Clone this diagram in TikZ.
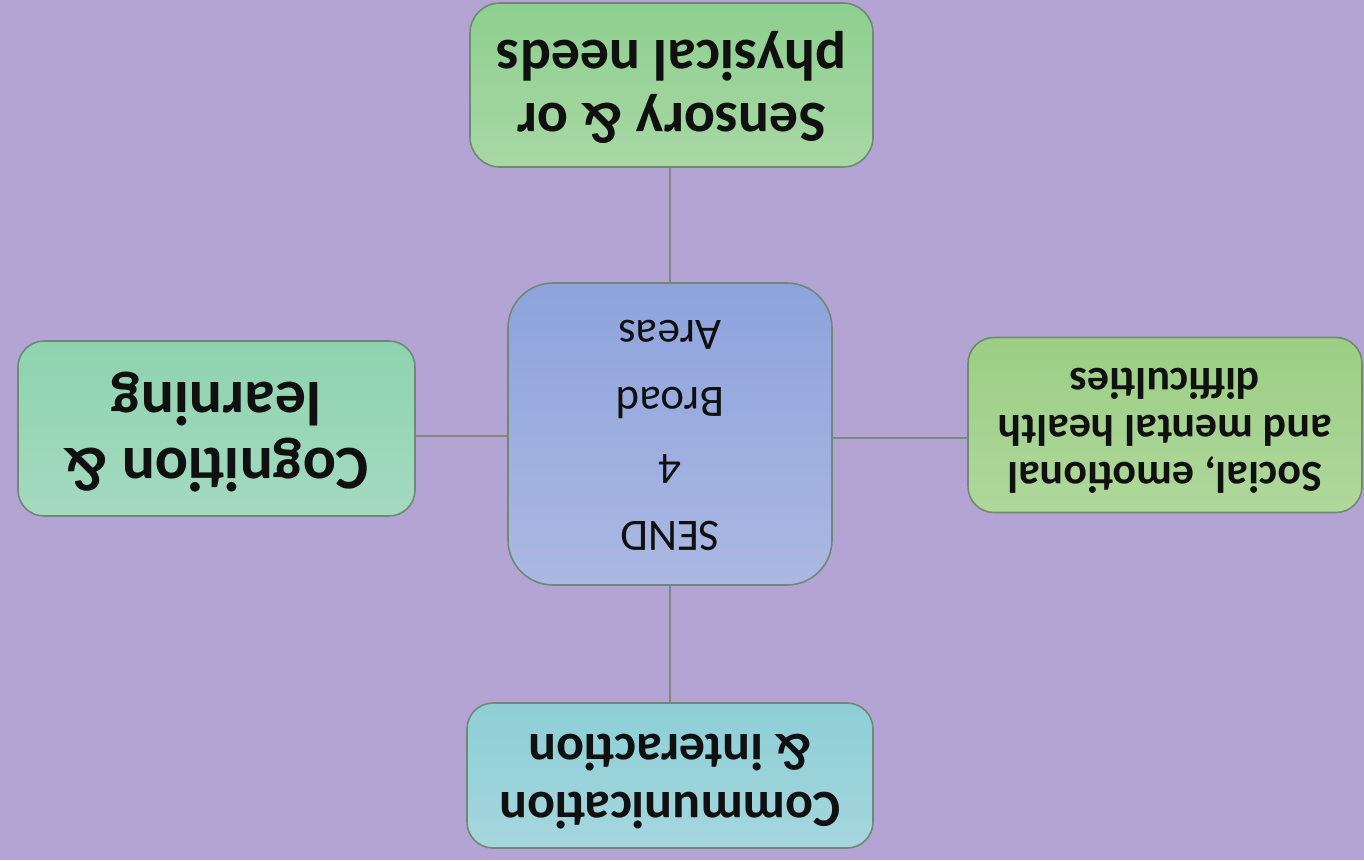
\documentclass[tikz,border=0pt]{standalone}
\usepackage{fontspec}
\setmainfont{Carlito}
\usepackage{graphicx}
\definecolor{bg}{HTML}{B3A4D4}
\definecolor{edgec}{HTML}{6F8A72}
\definecolor{linec}{HTML}{7C8A7E}
\definecolor{txt}{HTML}{101010}
\definecolor{sensT}{HTML}{8ECF8F}\definecolor{sensB}{HTML}{A8D8A4}
\definecolor{sendT}{HTML}{8EA3DD}\definecolor{sendB}{HTML}{ABB8E2}
\definecolor{socT}{HTML}{9BCF84}\definecolor{socB}{HTML}{B0D79C}
\definecolor{cogT}{HTML}{8ED3AF}\definecolor{cogB}{HTML}{A4DAC0}
\definecolor{comT}{HTML}{8DCFD6}\definecolor{comB}{HTML}{A6D6DE}
\tikzset{
  box/.style={draw=edgec, line width=1.6pt, inner sep=0pt, text=txt},
  conn/.style={draw=linec, line width=2pt},
}
\newcommand{\upside}[1]{\rotatebox{180}{\begin{tabular}{@{}c@{}}#1\end{tabular}}}
\begin{document}
\begin{tikzpicture}[x=1pt,y=-1pt]
\fill[bg] (0,0) rectangle (1364,860);
\useasboundingbox (0,0) rectangle (1364,860);
\node[box, rounded corners=30pt, minimum width=403pt, minimum height=164pt,
  top color=sensT, bottom color=sensB, font=\bfseries\fontsize{58}{63}\selectfont]
  (sens) at (671.5,85) {\upside{Sensory \& or\\physical needs}};
\node[box, rounded corners=45pt, minimum width=324pt, minimum height=302pt,
  top color=sendT, bottom color=sendB, font=\fontsize{45}{67}\selectfont]
  (send) at (670,434) {\upside{SEND\\4\\Broad\\Areas}};
\node[box, rounded corners=26pt, minimum width=394pt, minimum height=175pt,
  top color=socT, bottom color=socB, font=\bfseries\fontsize{44}{47}\selectfont]
  (soc) at (1165,425) {\upside{Social, emotional\\and mental health\\difficulties}};
\node[box, rounded corners=26pt, minimum width=397pt, minimum height=175pt,
  top color=cogT, bottom color=cogB, font=\bfseries\fontsize{62}{66}\selectfont]
  (cog) at (216.5,428.5) {\upside{Cognition \&\\learning}};
\node[box, rounded corners=26pt, minimum width=406pt, minimum height=145pt,
  top color=comT, bottom color=comB, font=\bfseries\fontsize{52}{58}\selectfont]
  (comm) at (670,775.5) {\upside{Communication\\\& interaction}};
\draw[conn] (sens.south -| send.north) -- (send.north);
\draw[conn] (send.south) -- (send.south |- comm.north);
\draw[conn] ([yshift=-2pt]send.west) -- ([yshift=-2pt]send.west -| cog.east);
\draw[conn] ([yshift=-4pt]send.east) -- ([yshift=-4pt]send.east -| soc.west);
\end{tikzpicture}
\end{document}
